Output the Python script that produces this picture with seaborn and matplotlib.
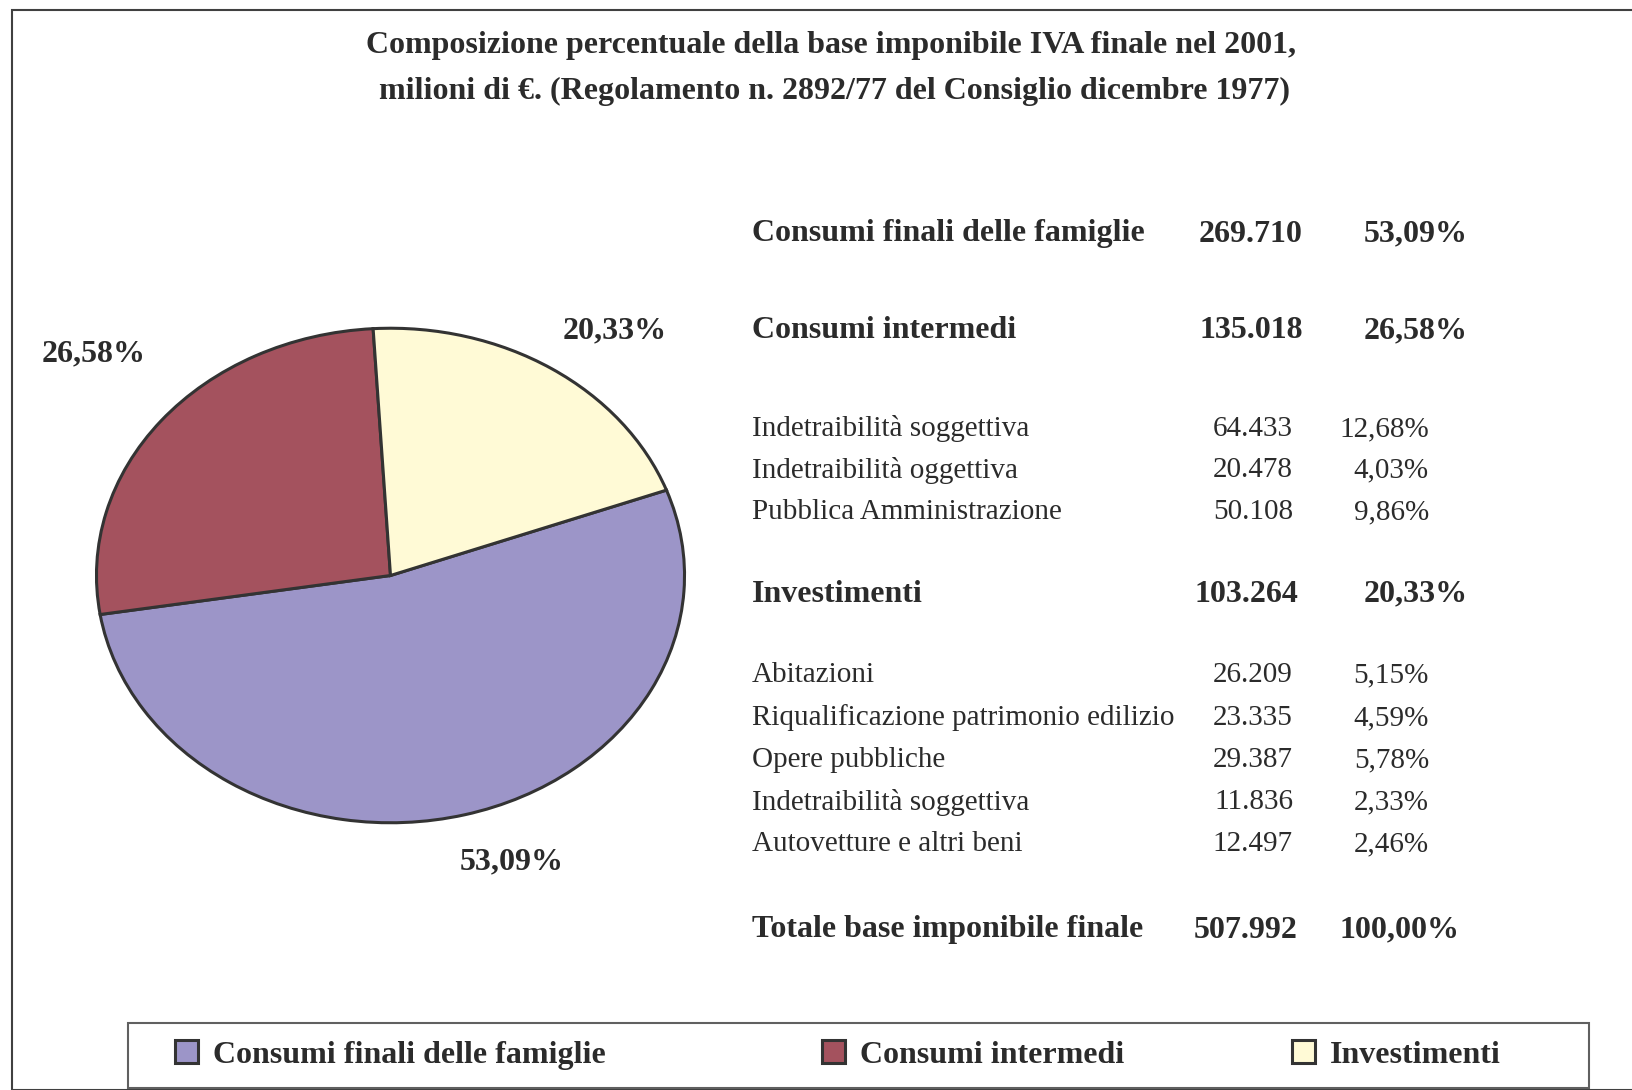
import matplotlib
matplotlib.use("Agg")
import matplotlib.pyplot as plt
import seaborn as sns

# pie data
categories = ["Consumi finali delle famiglie", "Consumi intermedi", "Investimenti"]
pie_values = [53.09, 26.58, 20.33]
pie_colors = ["#9c95c8", "#a4525e", "#fffad6"]

# table data
row_labels = ["Consumi finali delle famiglie", "Consumi intermedi",
              "Indetraibilità soggettiva", "Indetraibilità oggettiva", "Pubblica Amministrazione",
              "Investimenti",
              "Abitazioni", "Riqualificazione patrimonio edilizio", "Opere pubbliche",
              "Indetraibilità soggettiva", "Autovetture e altri beni",
              "Totale base imponibile finale"]
row_values = [269710, 135018, 64433, 20478, 50108, 103264,
              26209, 23335, 29387, 11836, 12497, 507992]
row_pcts = [53.09, 26.58, 12.68, 4.03, 9.86, 20.33,
            5.15, 4.59, 5.78, 2.33, 2.46, 100.00]
row_bold = [True, True, False, False, False, True,
            False, False, False, False, False, True]
row_y = [234, 331, 429, 470, 512, 594, 675, 718, 760, 802, 844, 930]  # pixel rows


def it_num(v):
    return f"{v:,}".replace(",", ".")


def it_pct(p):
    return f"{p:.2f}".replace(".", ",") + "%"


sns.set_theme(style="white")
plt.rcParams["font.family"] = ["Liberation Serif", "DejaVu Serif"]
TXT = "#2b2b2b"

W, H = 1632, 1090
fig = plt.figure(figsize=(W / 100, H / 100), dpi=100)

# outer frame
fig.patches.append(plt.Rectangle((12 / W, 0), 1.2, 1 - 10 / H, transform=fig.transFigure,
                                 fill=False, edgecolor="#404040", linewidth=1.5))

fig.text(831 / W, 1 - 45 / H, "Composizione percentuale della base imponibile IVA finale nel 2001,",
         ha="center", va="center", fontsize=23, fontweight="bold", color=TXT)
fig.text(835 / W, 1 - 91 / H, "milioni di €. (Regolamento n. 2892/77 del Consiglio dicembre 1977)",
         ha="center", va="center", fontsize=23, fontweight="bold", color=TXT)

# elliptical pie
ax = fig.add_axes([95 / W, 1 - 824 / H, 591 / W, 497 / H])
wedges, _ = ax.pie(pie_values, colors=pie_colors, startangle=20.2, counterclock=False,
                   wedgeprops=dict(edgecolor="#333333", linewidth=2.2))
ax.set_aspect("auto")
ax.set_xlim(-1.005, 1.005)
ax.set_ylim(-1.005, 1.005)
ax.axis("off")

label_pos = [(512, 862), (94, 354), (615, 331)]
for (px, py), p in zip(label_pos, pie_values):
    fig.text(px / W, 1 - py / H, it_pct(p), ha="center", va="center",
             fontsize=23, fontweight="bold", color=TXT)

# table on the right
for lab, v, p, b, y in zip(row_labels, row_values, row_pcts, row_bold, row_y):
    if b:
        kw = dict(fontsize=23, fontweight="bold")
        xn, xp = (1303, 1468) if lab != "Totale base imponibile finale" else (1298, 1459)
        if lab == "Investimenti":
            xn = 1298
    else:
        kw = dict(fontsize=21)
        xn, xp = 1293, 1429
    fig.text(752 / W, 1 - y / H, lab, ha="left", va="center", color=TXT, **kw)
    fig.text(xn / W, 1 - y / H, it_num(v), ha="right", va="center", color=TXT, **kw)
    fig.text(xp / W, 1 - y / H, it_pct(p), ha="right", va="center", color=TXT, **kw)

# legend box + one legend entry per category (uneven spacing as in the original)
fig.patches.append(plt.Rectangle((128 / W, 1 - 1088 / H), (1589 - 128) / W, 65 / H,
                                 transform=fig.transFigure, fill=False,
                                 edgecolor="#606060", linewidth=1.5))
leg_x = [175, 822, 1292]
for w, cat, lx in zip(wedges, categories, leg_x):
    leg = fig.legend([w], [cat], loc="center left",
                     bbox_to_anchor=(lx / W, 1 - 1055 / H), frameon=False,
                     prop=dict(size=23, weight="bold"), handlelength=0.72, handleheight=0.7,
                     handletextpad=0.47, borderpad=0, borderaxespad=0)
    for t in leg.get_texts():
        t.set_color(TXT)

fig.savefig("out.png", dpi=100)
